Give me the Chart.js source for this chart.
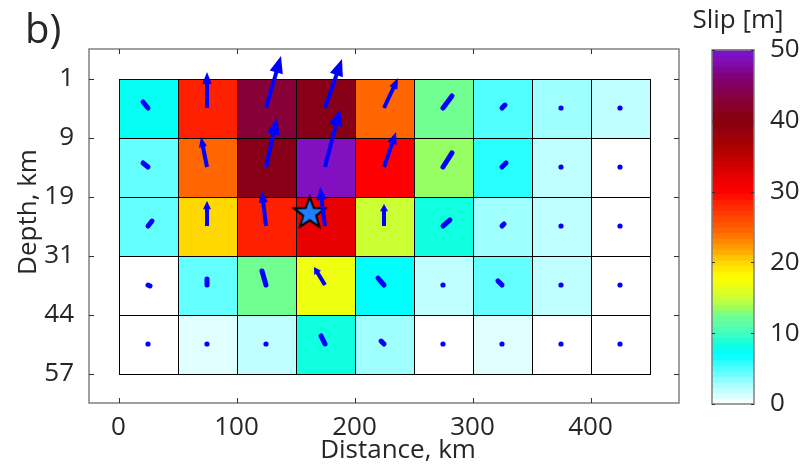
<!DOCTYPE html>
<html>
<head>
<meta charset="utf-8">
<script src="https://cdn.jsdelivr.net/npm/chart.js@4.4.1/dist/chart.umd.min.js"></script>
<style>
  html, body { margin: 0; padding: 0; background: #fff; }
  #wrap { position: relative; width: 807px; height: 468px; }
  #main { position: absolute; left: 0; top: 0; }
  #cbar { position: absolute; left: 690px; top: 0; }
</style>
</head>
<body>
<div id="wrap">
  <canvas id="main" width="807" height="468"></canvas>
  <canvas id="cbar" width="117" height="468"></canvas>
</div>
<script>
// tick labels
var distTicks = [0, 100, 200, 300, 400];
var depthLabels = ['1', '9', '19', '31', '44', '57'];
var cbarTicks = [0, 10, 20, 30, 40, 50];

// subfault patches: left edge along strike (km), width 50 km, 5 rows down dip
var patchLeft = [0, 50, 100, 150, 200, 250, 300, 350, 400];
var patchWidth = 50;

// slip amount per patch (m), rows top -> bottom
var slip = [
  [7.5, 28.5, 43, 41, 24.5, 12.5, 5, 3, 2],
  [4.5, 24.5, 41, 49, 30, 13.5, 6, 2, 0],
  [4.5, 20, 28.5, 32, 15, 8.5, 3, 2, 0],
  [0, 4.5, 12.5, 17, 7, 2, 4.5, 2, 0],
  [0, 1, 2, 8.5, 3, 0, 1, 0, 0]
];

// slip vector components (along strike, up dip), arbitrary quiver units
var slipU = [
  [-4.2, 0, 12.7, 14.4, 11.9, 7.6, 2.5, 0, 0],
  [-4.2, -5.1, 9.3, 12.7, 10.2, 7.6, 3.4, 0, 0],
  [3.4, 0, -3.4, -4.2, 0, 5.9, 1.7, 0, 0],
  [1.7, 0, -3.4, -9.3, -5.1, 0, -3.4, 0, 0.8],
  [0, 0, 0, -3.4, -2.5, 0, 0, 0, 0]
];
var slipV = [
  [5.1, 30.5, 44, 41.5, 25.4, 10.2, 2.5, 0, 0],
  [3.4, 25.4, 41.5, 49.2, 29.7, 11.9, 3.4, 0, 0],
  [4.2, 21.2, 29.7, 33, 18.6, 5.1, 1.7, 0, 0],
  [-0.8, 5, 11.9, 15.3, 5.9, 0, 3.4, 0, 0],
  [0, 0, 0, 6.8, 2.5, 0, 0, 0, 0]
];

// hypocentre
var hypo = [{ x: 162, y: 2.27 }];

// colormap stops [slip, colour]
var cmapStops = [
  [0, '#ffffff'], [2, '#c0ffff'], [3, '#a0ffff'], [5, '#50ffff'], [7, '#00ffff'],
  [8.5, '#10ffe0'], [10, '#40ffc0'], [12.5, '#70ff90'], [13.5, '#96ff64'],
  [15, '#ccff33'], [17, '#eeff10'], [18, '#ffff00'], [20, '#ffd800'],
  [22, '#ffa000'], [24.5, '#ff6600'], [28.5, '#ff2000'], [30, '#ff0000'],
  [32, '#e80000'], [36, '#b00000'], [40, '#860010'], [41, '#880018'],
  [43, '#880038'], [46, '#800070'], [49, '#8010c0'], [50, '#7a10d8']
];

var txtColor = '#262626';
var fontFam = "'Open Sans', 'DejaVu Sans', sans-serif";
Chart.defaults.font.family = fontFam;

function hexRgb(h) {
  return [parseInt(h.substr(1, 2), 16), parseInt(h.substr(3, 2), 16), parseInt(h.substr(5, 2), 16)];
}
function slipColor(v) {
  if (v <= cmapStops[0][0]) return cmapStops[0][1];
  for (var i = 1; i < cmapStops.length; i++) {
    if (v <= cmapStops[i][0]) {
      var a = cmapStops[i - 1], b = cmapStops[i];
      var t = (v - a[0]) / (b[0] - a[0]);
      var ca = hexRgb(a[1]), cb = hexRgb(b[1]);
      return 'rgb(' + ca.map((c, k) => Math.round(c + (cb[k] - c) * t)).join(',') + ')';
    }
  }
  return cmapStops[cmapStops.length - 1][1];
}

// star marker
function makeStar() {
  var cv = document.createElement('canvas');
  cv.width = 38; cv.height = 38;
  var c = cv.getContext('2d');
  c.beginPath();
  for (var i = 0; i < 10; i++) {
    var r = i % 2 === 0 ? 16.5 : 6.8;
    var a = -Math.PI / 2 + i * Math.PI / 5;
    var px = 19 + r * Math.cos(a), py = 20 + r * Math.sin(a);
    if (i === 0) c.moveTo(px, py); else c.lineTo(px, py);
  }
  c.closePath();
  c.fillStyle = '#1f80ff';
  c.fill();
  c.lineWidth = 2;
  c.strokeStyle = '#000';
  c.stroke();
  return cv;
}

function drawArrow(ctx, x0, y0, x1, y1) {
  var dx = x1 - x0, dy = y1 - y0, len = Math.hypot(dx, dy);
  ctx.fillStyle = '#0000ff';
  ctx.strokeStyle = '#0000ff';
  if (len < 2) {
    ctx.beginPath(); ctx.arc(x0, y0, 2.6, 0, 2 * Math.PI); ctx.fill();
    return;
  }
  if (len < 17) {
    ctx.lineWidth = 5; ctx.lineCap = 'round';
    ctx.beginPath(); ctx.moveTo(x0, y0); ctx.lineTo(x1, y1); ctx.stroke();
    return;
  }
  var ux = dx / len, uy = dy / len;
  var hl = Math.min(17, len * 0.33), hw = Math.max(4, hl * 0.4);
  var bx = x1 - ux * hl, by = y1 - uy * hl;
  ctx.lineWidth = 4; ctx.lineCap = 'butt';
  ctx.beginPath(); ctx.moveTo(x0, y0); ctx.lineTo(bx + ux, by + uy); ctx.stroke();
  ctx.beginPath();
  ctx.moveTo(x1, y1);
  ctx.lineTo(bx - uy * hw, by + ux * hw);
  ctx.lineTo(bx + uy * hw, by - ux * hw);
  ctx.closePath();
  ctx.fill();
}

var slipPlugin = {
  id: 'slipGrid',
  beforeDatasetsDraw(chart) {
    var ctx = chart.ctx, xs = chart.scales.x, ys = chart.scales.y;
    ctx.save();
    slip.forEach(function (row, r) {
      row.forEach(function (v, c) {
        var x0 = Math.round(xs.getPixelForValue(patchLeft[c])) + 0.5;
        var x1 = Math.round(xs.getPixelForValue(patchLeft[c] + patchWidth)) + 0.5;
        var y0 = Math.round(ys.getPixelForValue(r)) + 0.5;
        var y1 = Math.round(ys.getPixelForValue(r + 1)) + 0.5;
        ctx.fillStyle = slipColor(v);
        ctx.fillRect(x0, y0, x1 - x0, y1 - y0);
        ctx.lineWidth = 1;
        ctx.strokeStyle = '#000';
        ctx.strokeRect(x0, y0, x1 - x0, y1 - y0);
      });
    });
    ctx.restore();
  },
  afterDatasetsDraw(chart) {
    var ctx = chart.ctx, xs = chart.scales.x, ys = chart.scales.y;
    var k = xs.getPixelForValue(1) - xs.getPixelForValue(0);
    ctx.save();
    slip.forEach(function (row, r) {
      row.forEach(function (v, c) {
        var cx = xs.getPixelForValue(patchLeft[c] + patchWidth / 2);
        var cy = ys.getPixelForValue(r + 0.5);
        drawArrow(ctx, cx, cy, cx + slipU[r][c] * k, cy - slipV[r][c] * k);
      });
    });
    ctx.restore();
  },
  afterDraw(chart) {
    var ctx = chart.ctx, a = chart.chartArea, xs = chart.scales.x, ys = chart.scales.y;
    ctx.save();
    ctx.strokeStyle = '#808080';
    ctx.lineWidth = 1.5;
    ctx.strokeRect(a.left, a.top, a.right - a.left, a.bottom - a.top);
    ctx.strokeStyle = '#333';
    ctx.lineWidth = 1;
    ctx.beginPath();
    distTicks.forEach(function (v) {
      var x = Math.round(xs.getPixelForValue(v)) + 0.5;
      ctx.moveTo(x, a.bottom); ctx.lineTo(x, a.bottom - 5);
      ctx.moveTo(x, a.top); ctx.lineTo(x, a.top + 5);
    });
    depthLabels.forEach(function (l, i) {
      var y = Math.round(ys.getPixelForValue(i)) + 0.5;
      ctx.moveTo(a.left, y); ctx.lineTo(a.left + 5, y);
      ctx.moveTo(a.right, y); ctx.lineTo(a.right - 5, y);
    });
    ctx.stroke();

    ctx.fillStyle = txtColor;
    ctx.textAlign = 'center';
    ctx.textBaseline = 'middle';
    ctx.font = '26px ' + fontFam;
    ctx.fillText('Distance, km', 398, 451);
    ctx.save();
    ctx.translate(29, 212);
    ctx.rotate(-Math.PI / 2);
    ctx.fillText('Depth, km', 0, 0);
    ctx.restore();
    ctx.textAlign = 'left';
    ctx.textBaseline = 'alphabetic';
    ctx.font = '40px ' + fontFam;
    ctx.fillText('b)', 25, 43);
    ctx.restore();
  }
};

new Chart(document.getElementById('main'), {
  type: 'scatter',
  data: {
    datasets: [{
      label: 'Hypocentre',
      data: hypo,
      pointStyle: makeStar(),
      pointRadius: 16
    }]
  },
  options: {
    responsive: false,
    animation: false,
    layout: { padding: { left: 0, top: 49, right: 128, bottom: 0 } },
    plugins: { legend: { display: false }, tooltip: { enabled: false } },
    scales: {
      x: {
        type: 'linear', min: -25, max: 475,
        afterBuildTicks: function (s) { s.ticks = distTicks.map(v => ({ value: v })); },
        afterFit: function (s) { s.height = 65; },
        grid: { display: false }, border: { display: false },
        ticks: { color: txtColor, font: { size: 26 }, padding: 1, maxRotation: 0 }
      },
      y: {
        type: 'linear', min: -0.5, max: 5.5, reverse: true,
        afterBuildTicks: function (s) { s.ticks = depthLabels.map((l, i) => ({ value: i })); },
        afterFit: function (s) { s.width = 89; },
        grid: { display: false }, border: { display: false },
        ticks: { color: txtColor, font: { size: 26 }, padding: 7, callback: function (v) { return depthLabels[v]; } }
      }
    }
  },
  plugins: [slipPlugin]
});

var cbarPlugin = {
  id: 'cbarFill',
  beforeDraw(chart) {
    var ctx = chart.ctx, a = chart.chartArea, ys = chart.scales.y;
    var n = 64, lo = cbarTicks[0], hi = cbarTicks[cbarTicks.length - 1];
    ctx.save();
    for (var i = 0; i < n; i++) {
      var v0 = lo + (hi - lo) * i / n, v1 = lo + (hi - lo) * (i + 1) / n;
      var yb = ys.getPixelForValue(v0), yt = ys.getPixelForValue(v1);
      ctx.fillStyle = slipColor((v0 + v1) / 2);
      ctx.fillRect(a.left, yt - 0.5, a.right - a.left, yb - yt + 1);
    }
    ctx.strokeStyle = '#808080';
    ctx.lineWidth = 1.5;
    ctx.strokeRect(a.left, a.top, a.right - a.left, a.bottom - a.top);
    ctx.strokeStyle = '#333';
    ctx.lineWidth = 1;
    ctx.beginPath();
    cbarTicks.forEach(function (v) {
      var y = Math.round(ys.getPixelForValue(v)) + 0.5;
      ctx.moveTo(a.left, y); ctx.lineTo(a.left + 3, y);
      ctx.moveTo(a.right, y); ctx.lineTo(a.right - 3, y);
    });
    ctx.stroke();
    // colorbar title
    ctx.fillStyle = txtColor;
    ctx.font = '26px ' + fontFam;
    ctx.textAlign = 'center';
    ctx.textBaseline = 'middle';
    ctx.fillText('Slip [m]', 48, 21);
    ctx.restore();
  }
};

new Chart(document.getElementById('cbar'), {
  type: 'scatter',
  data: { datasets: [] },
  options: {
    responsive: false,
    animation: false,
    layout: { padding: { left: 22, right: 0, top: 50, bottom: 64 } },
    plugins: { legend: { display: false }, tooltip: { enabled: false } },
    scales: {
      x: { display: false, min: 0, max: 1 },
      y: {
        position: 'right', min: 0, max: 50,
        afterBuildTicks: function (s) { s.ticks = cbarTicks.map(v => ({ value: v })); },
        afterFit: function (s) { s.width = 53; },
        grid: { display: false }, border: { display: false },
        ticks: { color: txtColor, font: { size: 26 }, padding: 8 }
      }
    }
  },
  plugins: [cbarPlugin]
});
</script>
</body>
</html>
